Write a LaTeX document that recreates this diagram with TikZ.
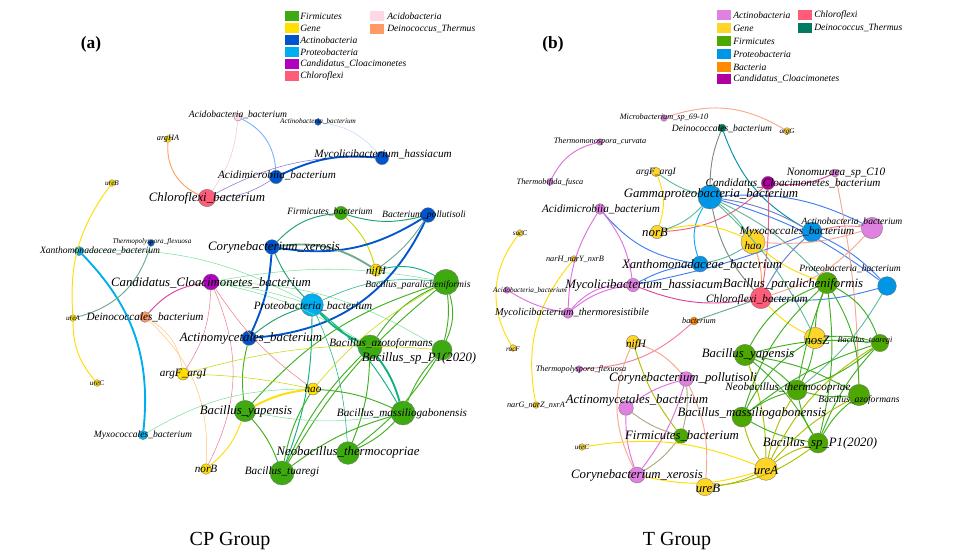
\documentclass[tikz,border=0pt]{standalone}
\usepackage{fontspec}
\setmainfont{Liberation Serif}
\begin{document}
\begin{tikzpicture}[x=0.75pt,y=-0.75pt]
\definecolor{firm}{HTML}{3DAA10}
\definecolor{firmR}{HTML}{4CA800}
\definecolor{gene}{HTML}{FFE000}
\definecolor{geneR}{HTML}{FFD52A}
\definecolor{actB}{HTML}{0055CC}
\definecolor{prot}{HTML}{00AEEF}
\definecolor{cand}{HTML}{B000C0}
\definecolor{chlo}{HTML}{FF5C7A}
\definecolor{acido}{HTML}{FFD8E4}
\definecolor{dein}{HTML}{FF9966}
\definecolor{actP}{HTML}{E080E0}
\definecolor{protR}{HTML}{0096E6}
\definecolor{bact}{HTML}{FF8C00}
\definecolor{candR}{HTML}{B000A0}
\definecolor{deinT}{HTML}{007A60}
% edge colours
\definecolor{cOr}{HTML}{FFA060}
\definecolor{cPinkL}{HTML}{FFC0D0}
\definecolor{cBlueL}{HTML}{80B0FF}
\definecolor{cBlueVL}{HTML}{C0D8FF}
\definecolor{cPurp}{HTML}{9070D0}
\definecolor{cBlue}{HTML}{0055CC}
\definecolor{cBlueM}{HTML}{4080F0}
\definecolor{cBlueG}{HTML}{7080C0}
\definecolor{cYel}{HTML}{FFDD00}
\definecolor{cCyan}{HTML}{00AEEF}
\definecolor{cGreenL}{HTML}{80E0A0}
\definecolor{cGrayG}{HTML}{70A890}
\definecolor{cMag}{HTML}{E040A0}
\definecolor{cOrL}{HTML}{FFC880}
\definecolor{cPink}{HTML}{F08090}
\definecolor{cTeal}{HTML}{20A070}
\definecolor{cYG}{HTML}{C8D800}
\definecolor{cGreen}{HTML}{40B020}
\definecolor{cTealG}{HTML}{10B080}
\definecolor{cGray}{HTML}{808888}
\definecolor{cSal}{HTML}{F8A890}
\definecolor{cOrc}{HTML}{E070E0}
\definecolor{cOlive}{HTML}{B0C000}
\definecolor{cTan}{HTML}{B0A880}
\definecolor{cTealB}{HTML}{0090B0}
\definecolor{cPinkR}{HTML}{F06080}
\tikzset{
  nd/.style={circle,draw=black!55,line width=0.25pt,inner sep=0pt},
  L/.style={font=\itshape\fontsize{9.6}{10}\selectfont,inner sep=0pt},
  M/.style={font=\itshape\fontsize{8.4}{9}\selectfont,inner sep=0pt},
  SM/.style={font=\itshape\fontsize{7.8}{8}\selectfont,inner sep=0pt},
  S/.style={font=\itshape\fontsize{7.2}{8}\selectfont,inner sep=0pt},
  U/.style={font=\itshape\fontsize{6.2}{7}\selectfont,inner sep=0pt},
  T/.style={font=\itshape\fontsize{5.4}{6}\selectfont,inner sep=0pt},
  e/.style={line width=0.7pt},
  th/.style={line width=1.4pt},
  tn/.style={line width=0.4pt},
  vl/.style={bend left=#1},
  vr/.style={bend right=#1},
  legsq/.style={minimum width=10.5pt,minimum height=8pt,inner sep=0pt},
  legtx/.style={font=\itshape\fontsize{7.2}{8}\selectfont,anchor=west,inner sep=0pt},
}
\useasboundingbox (0,0) rectangle (967,560);
\fill[white] (0,0) rectangle (967,560);
% ---------------- legends ----------------
\node[legsq,fill=firm] (lg1) at (292,16) {};
\node[legsq,fill=gene] (lg2) at (292,28) {};
\node[legsq,fill=actB] (lg3) at (292,40) {};
\node[legsq,fill=prot] (lg4) at (292,52) {};
\node[legsq,fill=cand] (lg5) at (292,64) {};
\node[legsq,fill=chlo] (lg6) at (292,76) {};
\node[legsq,fill=acido] (lg7) at (377,16) {};
\node[legsq,fill=dein] (lg8) at (377,29) {};
\node[legtx] (lt1) at (300,16) {Firmicutes};
\node[legtx] (lt2) at (300,28) {Gene};
\node[legtx] (lt3) at (300,40) {Actinobacteria};
\node[legtx] (lt4) at (300,52) {Proteobacteria};
\node[legtx] (lt5) at (300,64) {Candidatus\_Cloacimonetes};
\node[legtx] (lt6) at (300,76) {Chloroflexi};
\node[legtx] (lt7) at (387,16) {Acidobacteria};
\node[legtx] (lt8) at (387,29) {Deinococcus\_Thermus};
\node[legsq,fill=actP] (rg1) at (724,15) {};
\node[legsq,fill=geneR] (rg2) at (724,28) {};
\node[legsq,fill=firmR] (rg3) at (724,41) {};
\node[legsq,fill=protR] (rg4) at (724,54) {};
\node[legsq,fill=bact] (rg5) at (724,67) {};
\node[legsq,fill=candR] (rg6) at (724,79) {};
\node[legsq,fill=chlo] (rg7) at (805,15) {};
\node[legsq,fill=deinT] (rg8) at (805,28) {};
\node[legtx] (rt1) at (733,15) {Actinobacteria};
\node[legtx] (rt2) at (733,28) {Gene};
\node[legtx] (rt3) at (733,41) {Firmicutes};
\node[legtx] (rt4) at (733,54) {Proteobacteria};
\node[legtx] (rt5) at (733,67) {Bacteria};
\node[legtx] (rt6) at (733,79) {Candidatus\_Cloacimonetes};
\node[legtx] (rt7) at (814,15) {Chloroflexi};
\node[legtx] (rt8) at (814,28) {Deinococcus\_Thermus};
% panel titles
\node[font=\bfseries\fontsize{13}{14}\selectfont] (pa) at (91,44) {(a)};
\node[font=\bfseries\fontsize{13}{14}\selectfont] (pb) at (553,44) {(b)};
\node[font=\fontsize{15}{16}\selectfont] (ga) at (230,541) {CP Group};
\node[font=\fontsize{15}{16}\selectfont] (gb) at (677,541) {T Group};
% ---------------- left nodes ----------------
\node[nd,fill=acido,minimum size=6pt] (aAcido) at (238,117) {};
\node[nd,fill=actB,minimum size=5pt] (aActino) at (318,122) {};
\node[nd,fill=gene,minimum size=5pt] (aArgHA) at (168,139) {};
\node[nd,fill=actB,minimum size=10pt] (aMyco) at (382,158) {};
\node[nd,fill=actB,minimum size=10pt] (aAcidi) at (276,177) {};
\node[nd,fill=chlo,minimum size=13pt] (aChlo) at (207,198) {};
\node[nd,fill=gene,minimum size=5pt] (aUreB) at (112,183) {};
\node[nd,fill=firm,minimum size=10pt] (aFirm) at (341,213) {};
\node[nd,fill=actB,minimum size=11pt] (aPoll) at (428,215) {};
\node[nd,fill=actB,minimum size=5pt] (aThermo) at (151,243) {};
\node[nd,fill=prot,minimum size=7pt] (aXan) at (79,251) {};
\node[nd,fill=actB,minimum size=11pt] (aCory) at (272,247) {};
\node[nd,fill=gene,minimum size=9pt] (aNifH) at (376,270) {};
\node[nd,fill=firm,minimum size=19pt] (aPara) at (446,282) {};
\node[nd,fill=cand,minimum size=12pt] (aCand) at (211,282) {};
\node[nd,fill=dein,minimum size=8pt] (aDein) at (145,317) {};
\node[nd,fill=gene,minimum size=5pt] (aUreA) at (73,318) {};
\node[nd,fill=prot,minimum size=17pt] (aProt) at (312,305) {};
\node[nd,fill=actB,minimum size=11pt] (aActm) at (249,338) {};
\node[nd,fill=firm,minimum size=18pt] (aAzo) at (370,347) {};
\node[nd,fill=firm,minimum size=15pt] (aSp) at (442,350) {};
\node[nd,fill=gene,minimum size=5pt] (aUreC) at (97,383) {};
\node[nd,fill=gene,minimum size=9pt] (aArgF) at (183,374) {};
\node[nd,fill=gene,minimum size=9pt] (aHao) at (313,389) {};
\node[nd,fill=firm,minimum size=16pt] (aYap) at (245,411) {};
\node[nd,fill=firm,minimum size=18pt] (aMass) at (403,413) {};
\node[nd,fill=prot,minimum size=7pt] (aMyx) at (143,435) {};
\node[nd,fill=firm,minimum size=17pt] (aNeo) at (348,453) {};
\node[nd,fill=gene,minimum size=8pt] (aNorB) at (206,469) {};
\node[nd,fill=firm,minimum size=18pt] (aTua) at (282,473) {};
% ---------------- right nodes ----------------
\node[nd,fill=actP,minimum size=5pt] (bMicro) at (664,118) {};
\node[nd,fill=deinT,minimum size=6pt] (bDein) at (722,128) {};
\node[nd,fill=geneR,minimum size=5pt] (bArgG) at (787,131) {};
\node[nd,fill=actP,minimum size=5pt] (bThermoC) at (600,142) {};
\node[nd,fill=actP,minimum size=5pt] (bThermoF) at (550,182) {};
\node[nd,fill=geneR,minimum size=7pt] (bArgF) at (656,172) {};
\node[nd,fill=actP,minimum size=6pt] (bNono) at (835,173) {};
\node[nd,fill=candR,minimum size=10pt] (bCand) at (768,183) {};
\node[nd,fill=protR,minimum size=18pt] (bGamma) at (710,197) {};
\node[nd,fill=actP,minimum size=8pt] (bAcidi) at (600,209) {};
\node[nd,fill=geneR,minimum size=10pt] (bNorB) at (657,232) {};
\node[nd,fill=geneR,minimum size=5pt] (bSucC) at (520,233) {};
\node[nd,fill=actP,minimum size=16pt] (bActino) at (872,228) {};
\node[nd,fill=protR,minimum size=15pt] (bMyx) at (812,232) {};
\node[nd,fill=geneR,minimum size=18pt] (bHao) at (753,242) {};
\node[nd,fill=geneR,minimum size=5pt] (bNarH) at (574,259) {};
\node[nd,fill=protR,minimum size=12pt] (bXan) at (700,264) {};
\node[nd,fill=protR,minimum size=14pt] (bProt) at (887,286) {};
\node[nd,fill=firmR,minimum size=16pt] (bPara) at (827,283) {};
\node[nd,fill=actP,minimum size=5pt] (bAcido) at (507,290) {};
\node[nd,fill=actP,minimum size=10pt] (bMyco) at (633,285) {};
\node[nd,fill=chlo,minimum size=16pt] (bChlo) at (761,298) {};
\node[nd,fill=actP,minimum size=8pt] (bThermR) at (568,313) {};
\node[nd,fill=bact,minimum size=6pt] (bBact) at (694,321) {};
\node[nd,fill=geneR,minimum size=10pt] (bNifH) at (633,342) {};
\node[nd,fill=geneR,minimum size=5pt] (bRocF) at (513,348) {};
\node[nd,fill=geneR,minimum size=16pt] (bNosZ) at (815,338) {};
\node[nd,fill=firmR,minimum size=13pt] (bTua) at (880,343) {};
\node[nd,fill=firmR,minimum size=16pt] (bYap) at (745,355) {};
\node[nd,fill=actP,minimum size=5pt] (bThermP) at (579,369) {};
\node[nd,fill=actP,minimum size=11pt] (bCoryP) at (686,379) {};
\node[nd,fill=firmR,minimum size=15pt] (bNeo) at (797,390) {};
\node[nd,fill=firmR,minimum size=16pt] (bAzo) at (859,395) {};
\node[nd,fill=actP,minimum size=11pt] (bActm) at (626,408) {};
\node[nd,fill=geneR,minimum size=5pt] (bNarG) at (536,405) {};
\node[nd,fill=firmR,minimum size=15pt] (bMass) at (742,417) {};
\node[nd,fill=firmR,minimum size=11pt] (bFirm) at (681,436) {};
\node[nd,fill=geneR,minimum size=5pt] (bUreC) at (582,447) {};
\node[nd,fill=firmR,minimum size=15pt] (bSp) at (818,443) {};
\node[nd,fill=actP,minimum size=12pt] (bCoryX) at (637,475) {};
\node[nd,fill=geneR,minimum size=17pt] (bUreA) at (766,469) {};
\node[nd,fill=geneR,minimum size=13pt] (bUreB) at (705,487) {};
% ---------------- left edges ----------------
\draw[e,cOr] (aArgHA) to[vr=35] (aChlo);
\draw[tn,cPinkL] (aAcido) to[vl=15] (aChlo);
\draw[e,cBlueL] (aAcido) to[vl=30] (aAcidi);
\draw[tn,cBlueVL] (aActino) to[vl=20] (aMyco);
\draw[tn,cPurp] (aChlo) to[vl=15] (aMyco);
\draw[tn,cPurp] (aChlo) to[vr=15] (aAcidi);
\draw[th,cBlue] (aAcidi) to[vl=15] (aMyco);
\draw[e,cYel] (aUreB) to[vr=20] (aUreA);
\draw[e,cYel] (aUreA) to[vr=20] (aUreC);
\draw[th,cCyan] (aXan) to[vl=25] (aMyx);
\draw[tn,cGreenL] (aXan) to[vl=15] (aProt);
\draw[e,cGrayG] (aThermo) to[vl=30] (aUreA);
\draw[e,cMag] (aCand) to[vr=20] (aDein);
\draw[tn,cOrL] (aDein) to[vl=25] (aArgF);
\draw[tn,cOrL] (aDein) to[vl=25] (aNorB);
\draw[tn,cPink] (aCand) to[vl=15] (aArgF);
\draw[tn,cPink] (aCand) to[vl=25] (aNorB);
\draw[tn,cPink] (aCand) to[vr=10] (aHao);
\draw[tn,cGreenL] (aCand) to[vl=15] (aSp);
\draw[tn,cGreenL] (aCand) to[vl=10] (aAzo);
\draw[tn,cGreenL] (aCand) to[vl=10] (aPara);
\draw[e,cTeal] (aFirm) to[vr=20] (aCory);
\draw[e,cTeal] (aFirm) to[vr=15] (aPoll);
\draw[e,cYG] (aFirm) to[vl=15] (aNifH);
\draw[th,cBlue] (aCory) to[vr=20] (aPoll);
\draw[th,cGrayG] (aCory) to[vl=20] (aNifH);
\draw[th,cBlue] (aCory) to[vl=10] (aActm);
\draw[th,cBlue] (aPoll) to[vl=30] (aActm);
\draw[e,cGrayG] (aPoll) to[vl=10] (aNifH);
\draw[e,cTealG] (aNifH) to[vl=20] (aPara);
\draw[th,cTealG] (aProt) to[vr=10] (aAzo);
\draw[e,cTealG] (aProt) to[vl=10] (aTua);
\draw[tn,cTealG] (aProt) to[vl=10] (aNeo);
\draw[e,cTealG] (aProt) to[vl=10] (aMass);
\draw[tn,cTealG] (aProt) to[vl=15] (aPara);
\draw[e,cTeal] (aActm) to[vl=10] (aProt);
\draw[e,cTeal] (aCory) to[vr=10] (aProt);
\draw[tn,cGreenL] (aCand) to[vl=5] (aProt);
\draw[e,cGreen] (aActm) to[vr=10] (aYap);
\draw[e,cGreen] (aPara) to[vl=10] (aSp);
\draw[e,cGreen] (aPara) to[vl=20] (aSp);
\draw[e,cGreen] (aPara) to[vr=15] (aAzo);
\draw[e,cGreen] (aPara) to[vr=15] (aYap);
\draw[e,cGreen] (aPara) to[vr=10] (aTua);
\draw[tn,cYG] (aPara) to[vr=10] (aHao);
\draw[th,cTealG] (aAzo) to[vl=10] (aMass);
\draw[e,cGreen] (aAzo) to[vr=10] (aTua);
\draw[e,cGreen] (aAzo) to[vl=10] (aNeo);
\draw[e,cGreen] (aSp) to[vr=10] (aMass);
\draw[e,cGreen] (aSp) to[vl=10] (aNeo);
\draw[th,cYel] (aYap) to[vl=10] (aHao);
\draw[e,cGreen] (aYap) to[vl=10] (aTua);
\draw[tn,cGreenL] (aYap) to[vr=10] (aMass);
\draw[e,cGreen] (aMass) to[vr=10] (aTua);
\draw[e,cGreen] (aMass) to[vl=10] (aNeo);
\draw[e,cGreen] (aHao) to[vl=10] (aMass);
\draw[e,cGreen] (aHao) to[vr=10] (aTua);
\draw[e,cYel] (aYap) to[vl=15] (aNorB);
\draw[tn,cYG] (aArgF) to[vl=10] (aSp);
\draw[tn,cYG] (aArgF) to[vl=5] (aHao);
\draw[tn,cGreenL] (aMyx) to[vl=15] (aHao);
% ---------------- right edges ----------------
\draw[e,cSal] (bMicro) to[vl=25] (bArgG);
\draw[e,cGray] (bDein) to[vr=10] (bGamma);
\draw[e,cTealB] (bDein) to[vr=20] (bMyx);
\draw[e,cOrc] (bThermoC) to[vr=25] (bThermoF);
\draw[e,cYel] (bArgF) to[vl=20] (bNorB);
\draw[e,cTeal!70] (bArgF) to[vr=10] (bGamma);
\draw[e,cMag] (bCand) to[vr=15] (bNono);
\draw[e,cPinkR] (bCand) to[vl=5] (bChlo);
\draw[e,cPinkR] (bNorB) to[vr=20] (bCand);
\draw[e,cCyan] (bGamma) to[vr=25] (bXan);
\draw[e,cGray] (bGamma) to[vr=15] (bChlo);
\draw[e,cTeal!70] (bGamma) to[vl=10] (bHao);
\draw[e,cBlueM] (bGamma) to[vl=15] (bActino);
\draw[e,cBlueG] (bGamma) to[vl=10] (bMyx);
\draw[e,cTeal!70] (bGamma) to[vl=10] (bPara);
\draw[e,cTeal!70] (bGamma) to[vl=10] (bNosZ);
\draw[e,cBlueM] (bGamma) to[vl=10] (bProt);
\draw[e,cBlueM] (bAcidi) to[vr=20] (bXan);
\draw[e,cOrc] (bAcidi) to[vl=15] (bMyco);
\draw[e,cOrc] (bAcidi) to[vr=15] (bThermR);
\draw[e,cYel] (bNorB) to[vl=20] (bHao);
\draw[e,cTeal!70] (bNorB) to[vr=15] (bGamma);
\draw[e,cYel] (bSucC) to[vr=35] (bRocF);
\draw[e,cYel] (bNarH) to[vr=25] (bNarG);
\draw[e,cOrc] (bAcido) to[vr=10] (bThermR);
\draw[e,cOrc] (bThermR) to[vl=15] (bMyco);
\draw[e,cOrc] (bThermR) to[vl=25] (bMyco);
\draw[e,cMag] (bMyco) to[vr=15] (bChlo);
\draw[e,cBlueM] (bMyco) to[vl=10] (bXan);
\draw[e,cBlueM] (bMyco) to[vr=5] (bMyx);
\draw[e,cGrayG] (bBact) to (bChlo);
\draw[e,cPinkR!80] (bBact) to[vl=20] (bThermP);
\draw[e,cSal] (bNifH) to[vr=25] (bCoryX);
\draw[e,cOlive] (bNifH) to[vr=10] (bFirm);
\draw[e,cSal] (bNifH) to[vl=15] (bCoryP);
\draw[e,cOrc] (bCoryP) to[vr=10] (bActm);
\draw[e,cTan] (bCoryP) to[vl=10] (bFirm);
\draw[e,cOrc] (bCoryP) to[vl=10] (bCoryX);
\draw[e,cSal] (bCoryP) to[vl=15] (bUreB);
\draw[e,cTan] (bActm) to[vr=10] (bFirm);
\draw[e,cOrc] (bActm) to[vr=10] (bCoryX);
\draw[e,cTan] (bFirm) to[vl=10] (bCoryX);
\draw[e,cYel] (bUreC) to[vl=15] (bUreA);
\draw[e,cOlive] (bUreB) to[vr=10] (bUreA);
\draw[e,cOlive] (bUreB) to[vr=15] (bSp);
\draw[e,cYel] (bCoryX) to[vr=15] (bUreA);
\draw[e,cYel] (bChlo) to[vr=10] (bNosZ);
\draw[e,cYel] (bHao) to[vr=10] (bPara);
\draw[e,cOr] (bHao) to[vl=10] (bChlo);
\draw[e,cSal] (bHao) to[vr=10] (bActino);
\draw[e,cTeal!70] (bXan) to[vr=10] (bHao);
\draw[e,cPink] (bActino) to[vr=10] (bMyx);
\draw[e,cSal] (bActino) to[vl=15] (bChlo);
\draw[e,cBlueM] (bMyx) to[vl=10] (bProt);
\draw[e,cBlueG] (bMyx) to[vr=10] (bChlo);
\draw[e,cBlueM] (bProt) to[vl=10] (bChlo);
\draw[e,cSal] (bNono) to[vl=5] (bAzo);
\draw[e,cTeal!70] (bProt) to[vl=10] (bNeo);
\draw[e,cGreen] (bPara) to[vr=10] (bNosZ);
\draw[e,cGreen] (bPara) to[vr=20] (bYap);
\draw[e,cGreen] (bPara) to[vl=20] (bTua);
\draw[e,cGreen] (bPara) to[vr=5] (bNeo);
\draw[e,cGreen] (bPara) to[vl=10] (bSp);
\draw[e,cGreen] (bPara) to[vr=15] (bMass);
\draw[e,cGreen] (bPara) to[vl=15] (bAzo);
\draw[e,cGreen] (bYap) to[vl=10] (bNeo);
\draw[e,cGreen] (bYap) to[vl=10] (bAzo);
\draw[e,cOlive] (bYap) to[vl=10] (bUreA);
\draw[e,cGreen] (bYap) to[vl=10] (bSp);
\draw[e,cGreen] (bYap) to[vl=10] (bTua);
\draw[e,cOlive] (bMass) to[vr=10] (bUreA);
\draw[e,cGreen] (bMass) to[vl=10] (bTua);
\draw[e,cGreen] (bMass) to[vl=10] (bNeo);
\draw[e,cGreen] (bMass) to[vr=10] (bSp);
\draw[e,cGreen] (bMass) to[vl=15] (bNosZ);
\draw[e,cGreen] (bTua) to[vr=10] (bSp);
\draw[e,cOlive] (bTua) to[vr=15] (bUreA);
\draw[e,cGreen] (bTua) to[vl=10] (bNeo);
\draw[e,cGreen] (bTua) to[vr=10] (bNosZ);
\draw[e,cGreen] (bAzo) to[vr=10] (bSp);
\draw[e,cOlive] (bAzo) to[vr=10] (bUreA);
\draw[e,cGreen] (bAzo) to[vl=10] (bNeo);
\draw[e,cGreen] (bNeo) to[vr=10] (bSp);
\draw[e,cOlive] (bNeo) to[vr=10] (bUreA);
\draw[e,cOlive] (bSp) to[vr=10] (bUreA);
\draw[e,cGreen] (bNosZ) to[vl=10] (bNeo);
% ---------------- left labels ----------------
\node[S] (aAcidoL) at (238,115) {Acidobacteria\_bacterium};
\node[T] (aActinoL) at (318,121) {Actinobacteria\_bacterium};
\node[U] (aArgHAL) at (168,139) {argHA};
\node[M] (aMycoL) at (383,155) {Mycolicibacterium\_hassiacum};
\node[M] (aAcidiL) at (277,175) {Acidimicrobiia\_bacterium};
\node[L] (aChloL) at (207,198) {Chloroflexi\_bacterium};
\node[T] (aUreBL) at (112,183) {ureB};
\node[S] (aFirmL) at (330,212) {Firmicutes\_bacterium};
\node[S] (aPollL) at (424,215) {Bacterium\_pollutisoli};
\node[T] (aThermoL) at (152,242) {Thermopolyspora\_flexuosa};
\node[S] (aXanL) at (100,251) {Xanthomonadaceae\_bacterium};
\node[L] (aCoryL) at (274,247) {Corynebacterium\_xerosis};
\node[M] (aNifHL) at (376,272) {nifH};
\node[S] (aParaL) at (418,285) {Bacillus\_paralicheniformis};
\node[L] (aCandL) at (211,283) {Candidatus\_Cloacimonetes\_bacterium};
\node[M] (aDeinL) at (145,317) {Deinococcales\_bacterium};
\node[T] (aUreAL) at (73,318) {ureA};
\node[M] (aProtL) at (313,306) {Proteobacteria\_bacterium};
\node[L] (aActmL) at (251,338) {Actinomycetales\_bacterium};
\node[M] (aAzoL) at (381,344) {Bacillus\_azotoformans};
\node[L] (aSpL) at (419,358) {Bacillus\_sp\_P1(2020)};
\node[T] (aUreCL) at (97,383) {ureC};
\node[M] (aArgFL) at (183,374) {argF\_argI};
\node[M] (aHaoL) at (313,389) {hao};
\node[L] (aYapL) at (246,411) {Bacillus\_yapensis};
\node[M] (aMassL) at (402,414) {Bacillus\_massiliogabonensis};
\node[S] (aMyxL) at (143,435) {Myxococcales\_bacterium};
\node[L] (aNeoL) at (348,452) {Neobacillus\_thermocopriae};
\node[M] (aNorBL) at (206,469) {norB};
\node[M] (aTuaL) at (282,472) {Bacillus\_tuaregi};
% ---------------- right labels ----------------
\node[U] (bMicroL) at (664,118) {Microbacterium\_sp\_69-10};
\node[S] (bDeinL) at (722,129) {Deinococcales\_bacterium};
\node[T] (bArgGL) at (787,132) {argG};
\node[U] (bThermoCL) at (600,142) {Thermomonospora\_curvata};
\node[U] (bThermoFL) at (550,182) {Thermobifida\_fusca};
\node[S] (bArgFL) at (656,172) {argF\_argI};
\node[M] (bNonoL) at (836,173) {Nonomuraea\_sp\_C10};
\node[M] (bCandL) at (793,183) {Candidatus\_Cloacimonetes\_bacterium};
\node[L] (bGammaL) at (711,194) {Gammaproteobacteria\_bacterium};
\node[M] (bAcidiL) at (601,209) {Acidimicrobiia\_bacterium};
\node[L] (bNorBL) at (655,232) {norB};
\node[T] (bSucCL) at (520,233) {sucC};
\node[S] (bActinoL) at (852,222) {Actinobacteria\_bacterium};
\node[M] (bMyxL) at (797,232) {Myxococcales\_bacterium};
\node[M] (bHaoL) at (753,246) {hao};
\node[U] (bNarHL) at (575,259) {narH\_narY\_nxrB};
\node[L] (bXanL) at (702,265) {Xanthomonadaceae\_bacterium};
\node[S] (bProtL) at (850,269) {Proteobacteria\_bacterium};
\node[L] (bParaL) at (793,284) {Bacillus\_paralicheniformis};
\node[T] (bAcidoL) at (530,290) {Acidobacteria\_bacterium};
\node[L] (bMycoL) at (644,285) {Mycolicibacterium\_hassiacum};
\node[M] (bChloL) at (757,300) {Chloroflexi\_bacterium};
\node[SM] (bThermRL) at (572,313) {Mycolicibacterium\_thermoresistibile};
\node[U] (bBactL) at (699,321) {bacterium};
\node[M] (bNifHL) at (636,345) {nifH};
\node[T] (bRocFL) at (513,349) {rocF};
\node[L] (bNosZL) at (817,340) {nosZ};
\node[U] (bTuaL) at (865,341) {Bacillus\_tuaregi};
\node[L] (bYapL) at (748,354) {Bacillus\_yapensis};
\node[U] (bThermPL) at (581,369) {Thermopolyspora\_flexuosa};
\node[L] (bCoryPL) at (683,378) {Corynebacterium\_pollutisoli};
\node[M] (bNeoL) at (788,388) {Neobacillus\_thermocopriae};
\node[S] (bAzoL) at (859,400) {Bacillus\_azoformans};
\node[L] (bActmL) at (637,400) {Actinomycetales\_bacterium};
\node[U] (bNarGL) at (536,405) {narG\_narZ\_nxrA};
\node[L] (bMassL) at (752,413) {Bacillus\_massiliogabonensis};
\node[L] (bFirmL) at (682,436) {Firmicutes\_bacterium};
\node[T] (bUreCL) at (582,447) {ureC};
\node[L] (bSpL) at (820,443) {Bacillus\_sp\_P1(2020)};
\node[L] (bCoryXL) at (637,475) {Corynebacterium\_xerosis};
\node[L] (bUreAL) at (766,470) {ureA};
\node[L] (bUreBL) at (708,488) {ureB};
\end{tikzpicture}
\end{document}
